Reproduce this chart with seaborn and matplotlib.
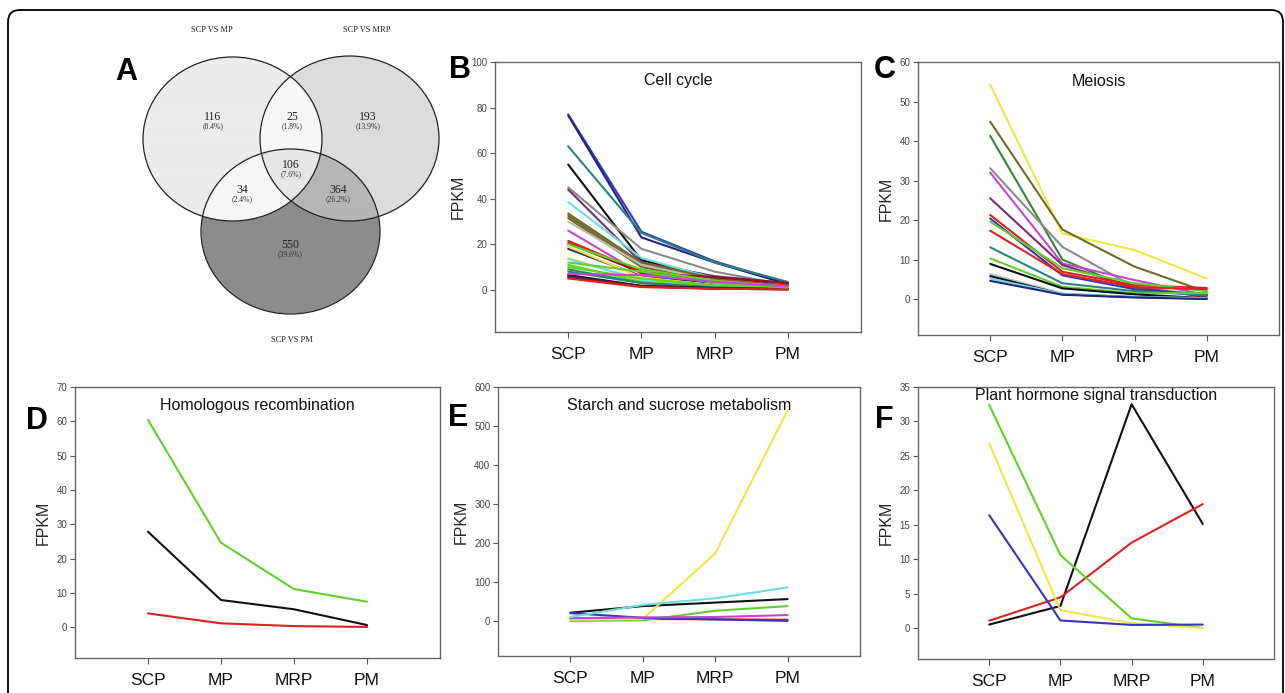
import numpy as np
import pandas as pd
import seaborn as sns
import matplotlib.pyplot as plt
from matplotlib.patches import Ellipse, FancyBboxPatch

sns.set_style('white')
plt.rcParams['font.family'] = ['Liberation Sans', 'DejaVu Sans']

# ---- data ----
stages = ['SCP', 'MP', 'MRP', 'PM']

# venn counts
venn_sets = ['SCP VS MP', 'SCP VS MRP', 'SCP VS PM']
venn_counts = {'100': 116, '010': 193, '001': 550, '110': 25,
               '101': 34, '011': 364, '111': 106}
venn_pct = {'100': '(8.4%)', '010': '(13.9%)', '001': '(39.6%)', '110': '(1.8%)',
            '101': '(2.4%)', '011': '(26.2%)', '111': '(7.6%)'}

# B: cell cycle
cell_cycle = [
    [77.0, 25.5, 12.5, 3.0], [76.5, 23.0, 12.0, 2.5], [63.0, 25.0, 12.0, 3.5],
    [55.0, 13.0, 5.5, 2.0], [45.0, 18.0, 8.0, 2.0], [44.0, 12.0, 6.0, 3.0],
    [38.5, 14.0, 5.0, 1.5], [33.5, 12.0, 5.0, 1.5], [32.5, 11.0, 4.5, 1.5],
    [31.5, 10.0, 4.0, 1.0], [30.0, 11.0, 4.0, 1.0], [26.0, 7.0, 3.0, 1.0],
    [21.5, 8.0, 4.0, 2.0], [20.5, 7.5, 5.5, 3.0], [18.0, 6.0, 3.0, 1.0],
    [19.0, 5.5, 2.0, 0.5], [20.0, 9.0, 4.0, 1.5], [14.0, 4.0, 1.5, 0.5],
    [13.5, 4.5, 2.0, 0.5], [11.0, 3.5, 1.5, 0.5], [9.0, 3.0, 1.0, 0.5],
    [10.0, 5.0, 2.0, 1.0], [8.0, 3.0, 1.0, 0.5], [6.5, 1.8, 0.8, 0.3],
    [6.0, 1.5, 0.5, 0.2], [5.5, 1.5, 0.6, 0.3], [5.0, 1.2, 0.5, 0.2],
    [12.0, 8.0, 3.0, 1.0], [7.0, 6.5, 3.5, 1.5],
]
cell_cycle_colors = ['blue', 'navy', 'teal', 'black', 'gray', 'purple', 'cyan',
                     'olive', 'olive', 'olive', 'lightgray', 'magenta', 'red',
                     'darkred', 'navy', 'yellow', 'green', 'yellow', 'cyan', 'green',
                     'darkgreen', 'green', 'teal', 'black', 'navy', 'darkred', 'red',
                     'green', 'magenta']

# C: meiosis
meiosis = [
    [54.2, 16.6, 12.4, 5.2], [44.9, 17.6, 8.2, 1.8], [41.3, 10.0, 2.3, 1.0],
    [33.1, 13.2, 3.0, 1.0], [32.0, 9.0, 4.8, 1.0], [25.5, 8.6, 3.0, 0.5],
    [21.3, 6.9, 3.5, 2.8], [20.4, 6.0, 2.5, 1.0], [19.6, 7.8, 4.0, 2.0],
    [17.3, 6.3, 3.0, 2.5], [13.1, 4.0, 2.0, 1.0], [10.3, 3.1, 1.5, 1.5],
    [8.9, 2.7, 1.2, 0.2], [6.3, 1.4, 0.5, 0.2], [5.8, 1.2, 0.5, 0.1],
    [5.2, 1.3, 0.5, 0.2], [4.6, 1.1, 0.4, 0.0],
]
meiosis_colors = ['yellow', 'olive', 'darkgreen', 'gray', 'magenta', 'purple', 'red',
                  'blue', 'green', 'red', 'teal', 'green', 'black', 'lightgray',
                  'black', 'cyan', 'navy']

# D: homologous recombination
homologous = [[27.8, 7.9, 5.2, 0.6], [4.0, 1.1, 0.3, 0.05], [60.4, 24.6, 11.1, 7.4]]
homologous_colors = ['black', 'red', 'green']

# E: starch and sucrose metabolism
starch = [
    [21.0, 38.0, 47.0, 56.0], [6.0, 5.0, 4.0, 3.0], [0.0, 1.5, 26.0, 38.0],
    [3.0, 5.0, 173.0, 540.0], [20.0, 8.0, 4.0, 0.0], [7.0, 9.0, 10.0, 15.0],
    [10.0, 41.0, 58.0, 86.0],
]
starch_colors = ['black', 'red', 'green', 'yellow', 'blue', 'magenta', 'cyan']

# F: plant hormone signal transduction
hormone = [
    [0.5, 3.2, 32.5, 15.1], [1.06, 4.45, 12.4, 18.0], [32.4, 10.6, 1.4, 0.0],
    [26.8, 2.6, 0.7, 0.0], [16.4, 1.1, 0.45, 0.5],
]
hormone_colors = ['black', 'red', 'green', 'yellow', 'blue']

# ---- styles ----
pal = {'black': '#111111', 'red': '#d92222', 'green': '#62d02c', 'yellow': '#f3e448',
       'blue': '#3535c0', 'magenta': '#c844d4', 'cyan': '#6adede', 'gray': '#8a8a8a',
       'darkred': '#8c1515', 'darkgreen': '#2f8a2f', 'olive': '#6f6a26',
       'navy': '#24247e', 'purple': '#7a2c7a', 'teal': '#2c8282', 'lightgray': '#bcbcbc'}

W, H = 1285, 693
fig = plt.figure(figsize=(W / 100, H / 100), dpi=100)

bg = fig.add_axes([0, 0, 1, 1])
bg.set_xlim(0, W)
bg.set_ylim(H, 0)
bg.axis('off')

# outer rounded frame
bg.add_patch(FancyBboxPatch((8, 10), 1275, 700, boxstyle='round,pad=0,rounding_size=12',
                            fc='none', ec='black', lw=1.3))

# ---- venn (panel A) ----
ells = [((232.5, 139), 179, 164), ((349.5, 138.5), 179, 165), ((290.5, 231.5), 179, 165)]
region_col = {'100': '#ececec', '010': '#dcdcdc', '001': '#8c8c8c', '110': '#f7f7f7',
              '101': '#f6f6f6', '011': '#b6b6b6', '111': '#e6e6e6'}
x0, x1, y0, y1 = 138, 445, 50, 320
gx, gy = np.meshgrid(np.linspace(x0, x1, 921), np.linspace(y0, y1, 811))
inside = [((gx - c[0]) / (w / 2)) ** 2 + ((gy - c[1]) / (h / 2)) ** 2 <= 1 for c, w, h in ells]
img = np.ones(gx.shape + (4,))
img[..., 3] = 0
for code, col in region_col.items():
    m = np.ones(gx.shape, bool)
    for k, ch in enumerate(code):
        m &= inside[k] if ch == '1' else ~inside[k]
    rgb = [int(col[i:i + 2], 16) / 255 for i in (1, 3, 5)]
    img[m] = rgb + [1]
bg.imshow(img, extent=(x0, x1, y1, y0), interpolation='antialiased', zorder=1)
for c, w, h in ells:
    bg.add_patch(Ellipse(c, w, h, fc='none', ec='#222222', lw=0.9, zorder=2))

venn_pos = {'100': (213, 117), '110': (292, 117), '010': (368, 117), '111': (291, 165),
            '101': (242, 190), '011': (338, 190), '001': (290, 245)}
serif = ['Liberation Serif', 'DejaVu Serif']
for code, (vx, vy) in venn_pos.items():
    bg.text(vx, vy, str(venn_counts[code]), ha='center', va='center', fontsize=8.5,
            family=serif, color='#222222', zorder=3)
    bg.text(vx, vy + 9, venn_pct[code], ha='center', va='center', fontsize=5.5,
            family=serif, color='#333333', zorder=3)
for name, (vx, vy) in zip(venn_sets, [(212, 30), (367, 30), (292, 340)]):
    bg.text(vx, vy, name, ha='center', va='center', fontsize=6, family=serif, color='#222222')


# ---- line panels ----
def px_axes(l, r, t, b):
    return fig.add_axes([l / W, 1 - b / H, (r - l) / W, (b - t) / H])


def draw_panel(ax, series, colors, title, ymax, ystep, ymin, title_y):
    rows = []
    for i, vals in enumerate(series):
        for j, v in enumerate(vals):
            rows.append({'gene': i, 'pos': j, 'FPKM': v})
    df = pd.DataFrame(rows)
    sns.lineplot(data=df, x='pos', y='FPKM', hue='gene', hue_order=list(range(len(series))),
                 palette=[pal[c] for c in colors], legend=False, ax=ax, lw=1.5,
                 estimator=None, sort=False)
    ax.set_xlim(-1, 4)
    ax.set_ylim(ymin, ymax)
    ax.set_xticks(range(len(stages)), stages, fontsize=12.5, color='#111111')
    ax.set_yticks(np.arange(0, ymax + 0.1, ystep))
    ax.tick_params(axis='y', labelsize=7, labelcolor='#444444', length=3.5,
                   width=0.8, color='#555555', left=True, pad=2)
    ax.tick_params(axis='x', length=4, width=0.8, color='#555555', bottom=True, pad=7)
    ax.set_xlabel('')
    ax.set_ylabel('FPKM', fontsize=11.5, labelpad=4)
    for s in ax.spines.values():
        s.set_color('#666666')
        s.set_linewidth(1.0)
    ax.text(0.5, title_y, title, transform=ax.transAxes, ha='center', va='center',
            fontsize=11.5, color='#111111')
    ax.set_facecolor('none')


axB = px_axes(495, 861, 62, 332)
draw_panel(axB, cell_cycle, cell_cycle_colors, 'Cell cycle', 100, 20, -18.5, 0.93)
axC = px_axes(918, 1279, 62, 335)
draw_panel(axC, meiosis, meiosis_colors, 'Meiosis', 60, 10, -9.1, 0.93)
axD = px_axes(75, 440, 387, 658)
draw_panel(axD, homologous, homologous_colors, 'Homologous recombination', 70, 10, -9.0, 0.93)
axE = px_axes(498, 860, 387, 656)
draw_panel(axE, starch, starch_colors, 'Starch and sucrose metabolism', 600, 100, -90, 0.93)
axF = px_axes(918, 1274, 387, 659)
draw_panel(axF, hormone, hormone_colors, 'Plant hormone signal transduction', 35, 5, -4.5, 0.967)

# panel letters
for letter, (lx, ly) in zip('ABCDEF', [(126, 72), (460, 70), (885, 70),
                                        (37, 421), (458, 418), (884, 420)]):
    bg.text(lx, ly, letter, ha='center', va='center', fontsize=22, fontweight='bold',
            color='black', zorder=5)

fig.savefig('out.png', dpi=100)
